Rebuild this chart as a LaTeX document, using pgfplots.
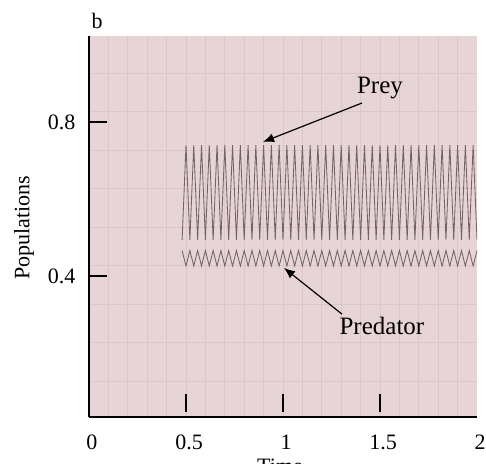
\documentclass[border=0pt]{standalone}
\usepackage{fontspec}
\setmainfont{Liberation Serif}
\usepackage{pgfplots}
\pgfplotsset{compat=1.18}
\usepackage{pgfplotstable}
\usetikzlibrary{arrows.meta}
\definecolor{bgpink}{RGB}{230,212,214}
\definecolor{gridpink}{RGB}{219,199,203}
\definecolor{traceg}{RGB}{115,99,105}

\pgfplotstableread{
x prey pred
0.48 0.494 0.466
0.50 0.740 0.426
0.52 0.494 0.466
0.54 0.740 0.426
0.56 0.494 0.466
0.58 0.740 0.426
0.60 0.494 0.466
0.62 0.740 0.426
0.64 0.494 0.466
0.66 0.740 0.426
0.68 0.494 0.466
0.70 0.740 0.426
0.72 0.494 0.466
0.74 0.740 0.426
0.76 0.494 0.466
0.78 0.740 0.426
0.80 0.494 0.466
0.82 0.740 0.426
0.84 0.494 0.466
0.86 0.740 0.426
0.88 0.494 0.466
0.90 0.740 0.426
0.92 0.494 0.466
0.94 0.740 0.426
0.96 0.494 0.466
0.98 0.740 0.426
1.00 0.494 0.466
1.02 0.740 0.426
1.04 0.494 0.466
1.06 0.740 0.426
1.08 0.494 0.466
1.10 0.740 0.426
1.12 0.494 0.466
1.14 0.740 0.426
1.16 0.494 0.466
1.18 0.740 0.426
1.20 0.494 0.466
1.22 0.740 0.426
1.24 0.494 0.466
1.26 0.740 0.426
1.28 0.494 0.466
1.30 0.740 0.426
1.32 0.494 0.466
1.34 0.740 0.426
1.36 0.494 0.466
1.38 0.740 0.426
1.40 0.494 0.466
1.42 0.740 0.426
1.44 0.494 0.466
1.46 0.740 0.426
1.48 0.494 0.466
1.50 0.740 0.426
1.52 0.494 0.466
1.54 0.740 0.426
1.56 0.494 0.466
1.58 0.740 0.426
1.60 0.494 0.466
1.62 0.740 0.426
1.64 0.494 0.466
1.66 0.740 0.426
1.68 0.494 0.466
1.70 0.740 0.426
1.72 0.494 0.466
1.74 0.740 0.426
1.76 0.494 0.466
1.78 0.740 0.426
1.80 0.494 0.466
1.82 0.740 0.426
1.84 0.494 0.466
1.86 0.740 0.426
1.88 0.494 0.466
1.90 0.740 0.426
1.92 0.494 0.466
1.94 0.740 0.426
1.96 0.494 0.466
1.98 0.740 0.426
2.00 0.494 0.466
}\popdata

\begin{document}
\begin{tikzpicture}
\begin{axis}[
  at={(0pt,0pt)}, anchor=south west,
  scale only axis, width=388pt, height=381pt,
  xmin=0, xmax=2, ymin=0.034, ymax=1.023,
  axis x line=bottom, axis y line=left,
  axis line style={-, line width=1.3pt, black},
  axis background/.style={fill=bgpink},
  tick align=inside,
  xtick={0.5,1,1.5}, ytick={0.4,0.8},
  xticklabels={0.5,1,1.5},
  extra x ticks={0,2}, extra x tick labels={0,2},
  extra x tick style={major tick length=0pt, grid=none},
  major tick length=18pt,
  xtick style={line width=1.6pt, black, yshift=5pt},
  ytick style={line width=1.6pt, black},
  /pgf/number format/assume math mode=true,
  tick label style={font=\fontsize{22}{26}\selectfont, black},
  xticklabel style={yshift=-14pt, xshift=3pt},
  yticklabel style={xshift=-10pt},
  minor xtick={0.1,0.2,0.3,0.4,0.5,0.6,0.7,0.8,0.9,1.0,1.1,1.2,1.3,1.4,1.5,1.6,1.7,1.8,1.9},
  minor ytick={0.127,0.227,0.327,0.427,0.527,0.627,0.727,0.827,0.927},
  minor tick length=0pt,
  grid=minor,
  minor grid style={gridpink, line width=0.7pt},
]
\addplot[traceg, line width=0.85pt] table[x=x, y=prey] {\popdata};
\addplot[traceg, line width=0.85pt] table[x=x, y=pred] {\popdata};
\draw[line width=1.2pt, -{Latex[length=11pt,width=9pt]}] (axis cs:1.407,0.849) -- (axis cs:0.897,0.748);
\draw[line width=1.2pt, -{Latex[length=11pt,width=9pt]}] (axis cs:1.304,0.301) -- (axis cs:1.005,0.421);
\node[font=\fontsize{25}{30}\selectfont] at (axis cs:1.500,0.888) {Prey};
\node[font=\fontsize{25}{30}\selectfont] at (axis cs:1.510,0.270) {Predator};
\end{axis}
\node[font=\fontsize{22}{26}\selectfont] at (8pt,396pt) {b};
\node[font=\fontsize{22}{26}\selectfont, rotate=90] at (-65pt,189pt) {Populations};
\node[font=\fontsize{22}{26}\selectfont, anchor=north, inner sep=0pt] at (191pt,-42pt) {Time};
\pgfresetboundingbox
\path[use as bounding box] (-89pt,-46pt) rectangle (397pt,417pt);
\end{tikzpicture}
\end{document}
